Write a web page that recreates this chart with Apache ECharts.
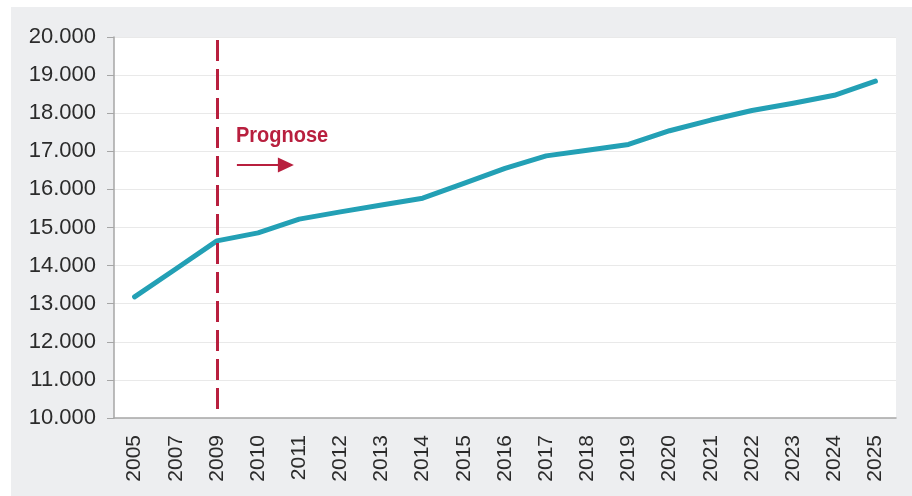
<!DOCTYPE html>
<html>
<head>
<meta charset="utf-8">
<script src="https://cdn.jsdelivr.net/npm/echarts@6/dist/echarts.min.js"></script>
<style>
  html, body { margin: 0; padding: 0; background: #ffffff; }
  #chart { width: 912px; height: 496px; }
</style>
</head>
<body>
<div id="chart"></div>
<script>
// Years on the category axis (2006 and 2008 are not shown)
const years = ['2005','2007','2009','2010','2011','2012','2013','2014','2015','2016',
               '2017','2018','2019','2020','2021','2022','2023','2024','2025'];
// Values per year; from 2009 on these are projections
const values = [13180, 13910, 14650, 14860, 15220, 15410, 15590, 15770, 16160, 16550,
                16880, 17030, 17180, 17540, 17820, 18070, 18260, 18470, 18840];
// Year from which the projection starts
const forecastStart = '2009';
const forecastLabel = 'Prognose';

const accent = '#b81f3e';
const lineColor = '#23a0b5';

const chart = echarts.init(document.getElementById('chart'), null, { renderer: 'canvas' });

const fmt = v => String(v).replace(/\B(?=(\d{3})+(?!\d))/g, '.');

const background = { type: 'rect', z: -10, silent: true,
  shape: { x: 11, y: 7, width: 901, height: 489 },
  style: { fill: '#edeef0' } };

chart.setOption({
  animation: false,
  grid: {
    left: 114, right: 16, top: 37, bottom: 78,
    show: true, backgroundColor: '#ffffff', borderWidth: 0
  },
  xAxis: {
    type: 'category',
    data: years,
    boundaryGap: true,
    axisLine: { lineStyle: { color: '#a6a6a6', width: 1.5 } },
    axisTick: { show: false },
    axisLabel: {
      rotate: 90, margin: 17, color: '#2b2b2b',
      fontFamily: 'Liberation Sans, Arial, sans-serif', fontSize: 21
    }
  },
  yAxis: {
    type: 'value',
    min: 10000, max: 20000, interval: 1000,
    axisLine: { show: true, lineStyle: { color: '#a6a6a6', width: 1.5 } },
    axisTick: { show: true, length: 7, lineStyle: { color: '#a6a6a6' } },
    splitLine: { lineStyle: { color: '#e9e9e9', width: 1 } },
    axisLabel: {
      margin: 18, color: '#2b2b2b',
      fontFamily: 'Liberation Sans, Arial, sans-serif', fontSize: 22,
      formatter: fmt
    }
  },
  graphic: [background],
  series: [{
    type: 'line',
    data: values,
    symbol: 'none',
    lineStyle: { color: lineColor, width: 5, cap: 'round', join: 'round' },
    z: 3,
    markLine: {
      silent: true,
      symbol: ['none', 'none'],
      label: { show: false },
      lineStyle: { color: accent, width: 3, type: [21, 8] },
      data: [[{ coord: [forecastStart, 19920] }, { coord: [forecastStart, 10100] }]],
      z: 4
    }
  }]
});

// Forecast caption and arrow placed next to the start year
const px = chart.convertToPixel({ xAxisIndex: 0 }, forecastStart);
const yTop = chart.convertToPixel({ yAxisIndex: 0 }, 20000);
chart.setOption({
  graphic: [
    background,
    { type: 'text', z: 10, x: px + 19, y: yTop + 88, scaleX: 0.91,
      style: { text: forecastLabel, fill: accent,
               font: 'bold 22px "Liberation Sans", Arial, sans-serif' } },
    { type: 'line', z: 10,
      shape: { x1: px + 20, y1: yTop + 128, x2: px + 64, y2: yTop + 128 },
      style: { stroke: accent, lineWidth: 2.2 } },
    { type: 'polygon', z: 10,
      shape: { points: [[px + 61, yTop + 120.5], [px + 77, yTop + 128], [px + 61, yTop + 135.5]] },
      style: { fill: accent } }
  ]
});
</script>
</body>
</html>
